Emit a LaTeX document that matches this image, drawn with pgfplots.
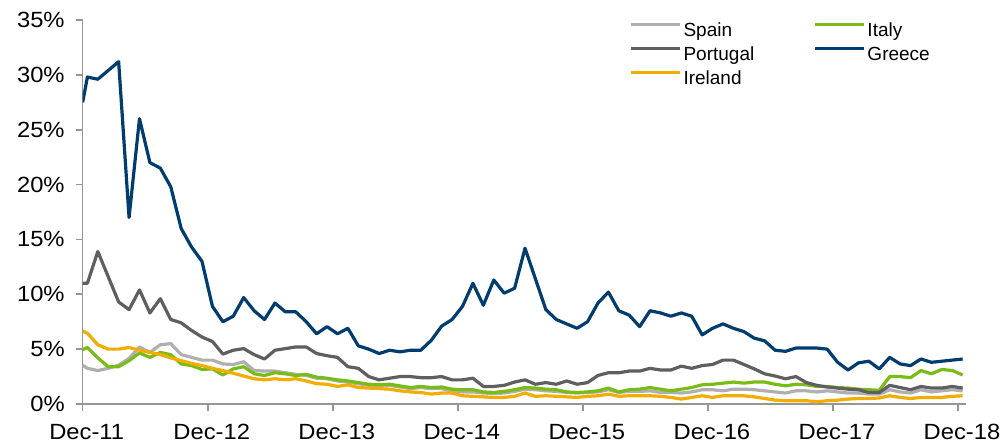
\documentclass[border=0pt]{standalone}
\usepackage{pgfplots}
\usepackage{pgfplotstable}
\pgfplotsset{compat=1.18}
\usepackage{fontspec}
\setmainfont{Liberation Sans}
\newfontfamily\tickfont[FakeStretch=1.08]{Liberation Sans}
\definecolor{cSpain}{RGB}{175,175,178}
\definecolor{cItaly}{RGB}{122,188,22}
\definecolor{cPort}{RGB}{95,95,97}
\definecolor{cGreece}{RGB}{0,61,110}
\definecolor{cIreland}{RGB}{243,172,0}
\definecolor{cAxis}{RGB}{150,150,150}
\pgfplotstableread{
x sp it pt gr ie
0 3.55 4.95 11.0 27.5 6.65
0.45 3.25 5.15 11.0 29.8 6.45
1.45 3.05 4.2 13.9 29.6 5.4
2.45 3.25 3.4 11.6 30.4 5.0
3.45 3.55 3.4 9.3 31.2 5.0
4.45 4.15 3.95 8.6 17.0 5.15
5.45 5.2 4.65 10.4 26.0 4.9
6.45 4.7 4.25 8.3 22.0 4.7
7.45 5.4 4.7 9.6 21.5 4.5
8.45 5.5 4.5 7.7 19.8 4.2
9.45 4.5 3.65 7.4 16.0 3.95
10.45 4.25 3.5 6.7 14.3 3.7
11.45 4.0 3.15 6.1 13.0 3.5
12.45 4.0 3.2 5.7 8.9 3.25
13.45 3.65 2.65 4.55 7.5 3.05
14.45 3.6 3.2 4.9 8.0 2.8
15.45 3.85 3.4 5.05 9.7 2.55
16.45 3.05 2.75 4.5 8.5 2.3
17.45 3.0 2.6 4.1 7.7 2.2
18.45 3.0 2.85 4.9 9.2 2.3
19.45 2.85 2.75 5.05 8.4 2.2
20.45 2.7 2.6 5.2 8.4 2.3
21.45 2.6 2.7 5.2 7.5 2.1
22.45 2.35 2.45 4.6 6.4 1.85
23.45 2.3 2.35 4.4 7.05 1.8
24.45 2.1 2.2 4.25 6.4 1.6
25.45 2.0 2.1 3.4 6.9 1.75
26.45 1.85 1.95 3.25 5.3 1.5
27.45 1.7 1.8 2.5 5.0 1.45
28.45 1.65 1.75 2.2 4.6 1.4
29.45 1.7 1.8 2.35 4.9 1.35
30.45 1.55 1.65 2.5 4.75 1.2
31.45 1.4 1.5 2.5 4.9 1.1
32.45 1.5 1.6 2.4 4.9 1.05
33.45 1.4 1.5 2.4 5.8 0.9
34.45 1.4 1.55 2.5 7.1 1.0
35.45 1.2 1.35 2.2 7.7 1.0
36.45 1.1 1.3 2.2 8.9 0.75
37.45 1.1 1.3 2.35 11.0 0.7
38.45 1.0 1.1 1.6 9.0 0.65
39.45 0.95 1.05 1.6 11.3 0.6
40.45 1.0 1.15 1.7 10.1 0.6
41.45 1.15 1.3 2.0 10.55 0.7
42.45 1.35 1.5 2.2 14.2 1.0
43.45 1.3 1.45 1.8 11.4 0.7
44.45 1.2 1.35 1.95 8.6 0.75
45.45 1.15 1.3 1.8 7.7 0.7
46.45 1.05 1.1 2.1 7.3 0.65
47.45 1.0 1.05 1.8 6.9 0.6
48.45 1.05 1.1 1.95 7.5 0.7
49.45 1.1 1.2 2.6 9.2 0.75
50.45 1.3 1.45 2.85 10.2 0.9
51.45 1.05 1.1 2.85 8.5 0.7
52.45 1.15 1.3 3.0 8.1 0.75
53.45 1.15 1.35 3.0 7.05 0.75
54.45 1.2 1.5 3.25 8.5 0.75
55.45 1.05 1.35 3.1 8.3 0.7
56.45 1.05 1.2 3.1 8.0 0.6
57.45 1.0 1.35 3.45 8.3 0.45
58.45 1.1 1.5 3.25 8.0 0.6
59.45 1.3 1.75 3.5 6.3 0.75
60.45 1.3 1.8 3.6 6.9 0.6
61.45 1.2 1.9 4.0 7.3 0.75
62.45 1.35 2.0 4.0 6.9 0.75
63.45 1.35 1.9 3.6 6.6 0.75
64.45 1.3 2.0 3.2 6.0 0.65
65.45 1.2 2.0 2.75 5.75 0.5
66.45 1.1 1.8 2.55 4.9 0.35
67.45 1.0 1.65 2.3 4.8 0.3
68.45 1.2 1.8 2.5 5.1 0.3
69.45 1.2 1.75 1.95 5.1 0.3
70.45 1.1 1.6 1.7 5.1 0.2
71.45 1.2 1.6 1.55 5.0 0.3
72.45 1.1 1.5 1.45 3.8 0.35
73.45 1.0 1.45 1.35 3.1 0.45
74.45 1.0 1.35 1.3 3.75 0.5
75.45 0.9 1.3 1.05 3.9 0.5
76.45 0.9 1.25 1.05 3.2 0.55
77.45 1.3 2.5 1.7 4.25 0.75
78.45 1.1 2.5 1.5 3.65 0.6
79.45 1.0 2.4 1.3 3.5 0.5
80.45 1.3 3.05 1.6 4.1 0.6
81.45 1.1 2.75 1.45 3.8 0.6
82.45 1.2 3.15 1.45 3.9 0.6
83.45 1.3 3.05 1.6 4.0 0.7
84.45 1.2 2.65 1.45 4.1 0.75
}\data
\begin{document}
\begin{tikzpicture}
\path[use as bounding box] (-41.35pt,-19.5pt) rectangle (459.65pt,202pt);
\begin{axis}[
  at={(0pt,0pt)}, anchor=south west,
  scale only axis, width=441.65pt, height=192pt,
  xmin=0, xmax=84.77, ymin=0, ymax=35,
  axis x line*=bottom, axis y line*=left,
  axis line style={cAxis, line width=0.8pt},
  every tick/.style={cAxis, line width=0.8pt},
  tick align=outside, major tick length=3.5pt,
  xtick={0,12,24,36,48,60,72,84},
  xticklabels={Dec-11,Dec-12,Dec-13,Dec-14,Dec-15,Dec-16,Dec-17,Dec-18},
  ytick={0,5,10,15,20,25,30,35},
  yticklabel={\pgfmathprintnumber{\tick}\%},
  /pgf/number format/assume math mode=true,
  ticklabel style={font=\tickfont\fontsize{11}{13}\selectfont, text=black},
  xticklabel style={xshift=2pt, yshift=-3pt},
  yticklabel style={xshift=-2pt},
  legend columns=2,
  legend cell align=left,
  legend style={at={(0.6184,1.0026)}, anchor=north west, draw=none, fill=none,
    inner sep=0pt, font=\fontsize{9.5}{11}\selectfont,
    nodes={inner sep=1pt, text height=7.5pt, text depth=2.5pt},
    /tikz/every even column/.append style={column sep=28.5pt}},
  legend image code/.code={\draw[#1, line width=1.6pt] (0pt,3.5pt) -- (24.5pt,3.5pt);},
  every axis plot/.append style={line width=1.6pt, line join=round},
]
\addplot[cSpain] table[x=x,y=sp] {\data};
\addlegendentry{Spain}
\addplot[cItaly] table[x=x,y=it] {\data};
\addlegendentry{Italy}
\addplot[cPort] table[x=x,y=pt] {\data};
\addlegendentry{Portugal}
\addplot[cGreece] table[x=x,y=gr] {\data};
\addlegendentry{Greece}
\addplot[cIreland] table[x=x,y=ie] {\data};
\addlegendentry{Ireland}
\end{axis}
\end{tikzpicture}
\end{document}
